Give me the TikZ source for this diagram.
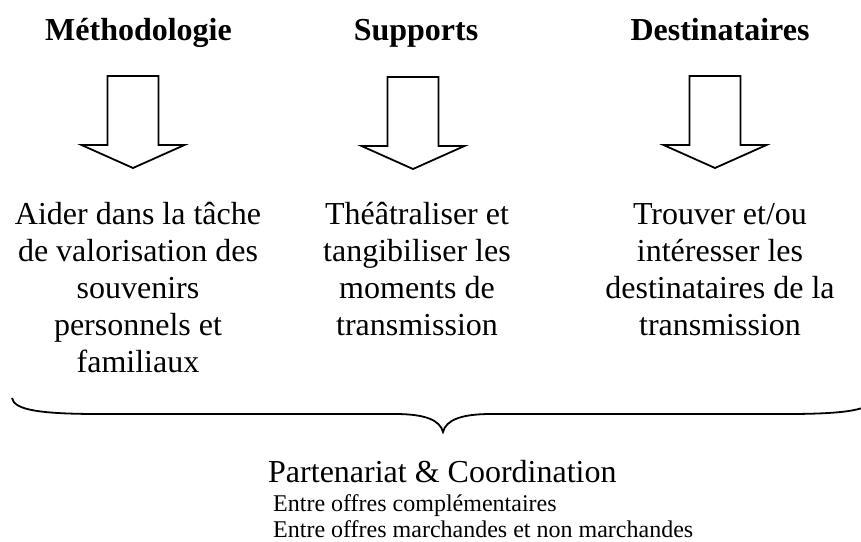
\documentclass[tikz,border=0pt]{standalone}
\usepackage{fontspec}
\setmainfont{Liberation Serif}
\begin{document}
\begin{tikzpicture}[x=1pt,y=-1pt,
  title/.style={font=\fontsize{32}{37}\selectfont\bfseries, inner sep=0pt, anchor=base},
  body/.style={font=\fontsize{32}{37}\selectfont, align=center, inner sep=0pt, anchor=base},
  bigline/.style={font=\fontsize{32}{37}\selectfont, inner sep=0pt, anchor=base west},
  smallline/.style={font=\fontsize{24}{25}\selectfont, inner sep=0pt, anchor=base west},
  blockarrow/.style={draw, line width=1.8pt, line join=miter},
  bracepath/.style={draw, line width=1.8pt}]
\useasboundingbox (0,0) rectangle (861,541);
\clip (0,0) rectangle (861,541);
% titles
\node[title] (t1) at (138.5,40) {Méthodologie};
\node[title] (t2) at (416,40) {Supports};
\node[title] (t3) at (720,40) {Destinataires};
% block arrows
\foreach \c/\t in {133/76, 413/77, 715/76}{
  \draw[blockarrow] (\c-25.5,\t) -- (\c+25.5,\t) -- (\c+25.5,\t+69) -- (\c+51.5,\t+69)
     -- (\c,\t+92) -- (\c-51.5,\t+69) -- (\c-25.5,\t+69) -- cycle;
}
% body texts (anchored at the baseline of their last line)
\node[body] (b1) at (138,372) {Aider dans la tâche\\de valorisation des\\souvenirs\\personnels et\\familiaux};
\node[body] (b2) at (417,335) {Théâtraliser et\\tangibiliser les\\moments de\\transmission};
\node[body] (b3) at (720,335) {Trouver et/ou\\intéresser les\\destinataires de la\\transmission};
% brace
\draw[bracepath] (12,398) .. controls (14,410) and (40,414) .. (100,414) -- (395,414)
  .. controls (425,414) and (440,420) .. (443,432)
  .. controls (446,420) and (461,414) .. (491,414) -- (786,414)
  .. controls (846,414) and (872,410) .. (874,398);
% bottom texts
\node[bigline] (p) at (268,482) {Partenariat \& Coordination};
\node[smallline] (e1) at (273,511) {Entre offres complémentaires};
\node[smallline] (e2) at (273,537) {Entre offres marchandes et non marchandes};
\end{tikzpicture}
\end{document}
